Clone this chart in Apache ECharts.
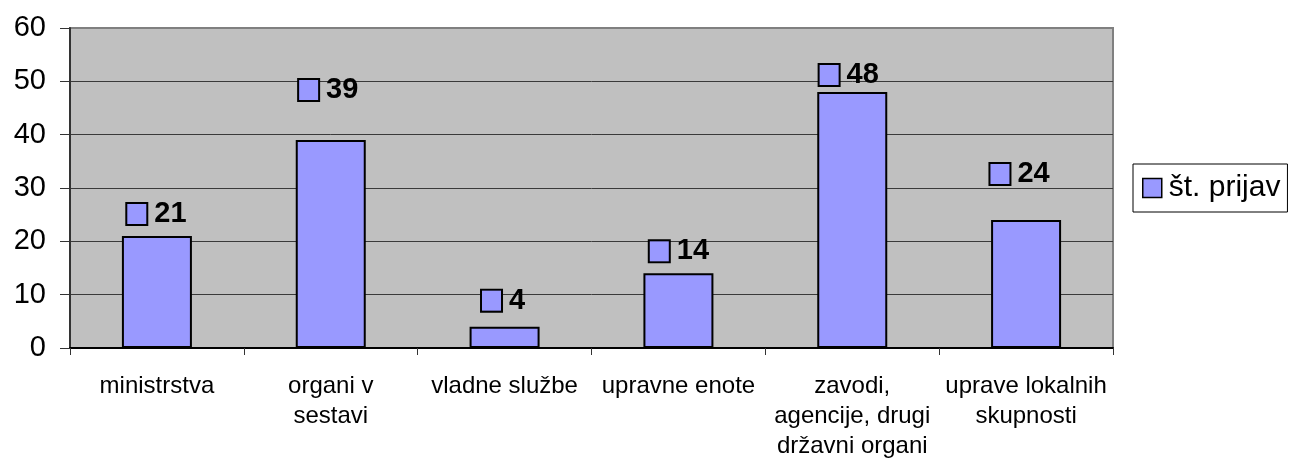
<!DOCTYPE html>
<html>
<head>
<meta charset="utf-8">
<script src="https://cdn.jsdelivr.net/npm/echarts@6/dist/echarts.min.js"></script>
<style>
  html, body { margin: 0; padding: 0; background: #fff; }
  #chart { width: 1291px; height: 462px; }
</style>
</head>
<body>
<div id="chart"></div>
<script>
  // podatki
  const categories = [
    'ministrstva',
    'organi v\nsestavi',
    'vladne službe',
    'upravne enote',
    'zavodi,\nagencije, drugi\ndržavni organi',
    'uprave lokalnih\nskupnosti'
  ];
  const prijave = [21, 39, 4, 14, 48, 24];
  const seriesName = 'št. prijav';
  const yTicks = [0, 10, 20, 30, 40, 50, 60];

  // zamiki oznak (Excel jih postavi malo po svoje)
  const labelOffsets = [[0, -3], [-2, -31], [-1, -7], [1, -3], [-3, 2], [-6, -27]];

  const font = "'Liberation Sans', Arial, sans-serif";
  const barColor = '#9999FF';

  const chart = echarts.init(document.getElementById('chart'));

  const option = {
    animation: false,
    textStyle: { fontFamily: font },
    grid: {
      left: 70, right: 178, top: 28, bottom: 114,
      show: true,
      backgroundColor: '#C0C0C0',
      borderColor: '#808080',
      borderWidth: 2
    },
    legend: {
      data: [seriesName],
      left: 1133, top: 164,
      orient: 'vertical',
      icon: 'rect',
      itemWidth: 19, itemHeight: 19,
      itemStyle: { color: barColor, borderColor: '#000', borderWidth: 1.5 },
      borderColor: '#000', borderWidth: 1,
      padding: [9, 7, 9, 9],
      textStyle: { fontSize: 30, color: '#000', fontFamily: font, padding: [0, 0, 0, 2] }
    },
    xAxis: {
      type: 'category',
      data: categories,
      axisLine: { lineStyle: { color: '#000', width: 2 } },
      axisTick: { show: true, length: 7, lineStyle: { color: '#333' } },
      axisLabel: { interval: 0, fontSize: 24, lineHeight: 30, color: '#000', margin: 23, fontFamily: font },
      splitLine: { show: false }
    },
    yAxis: {
      type: 'value',
      min: yTicks[0], max: yTicks[yTicks.length - 1], interval: 10,
      axisLine: { show: true, lineStyle: { color: '#333', width: 2 } },
      axisTick: { show: true, length: 10, lineStyle: { color: '#333' } },
      axisLabel: { fontSize: 29, color: '#000', margin: 24, fontFamily: font },
      splitLine: { show: true, showMaxLine: false, lineStyle: { color: '#3a3a3a', width: 1 } }
    },
    series: [{
      name: seriesName,
      type: 'bar',
      barWidth: 70,
      data: prijave.map((v, i) => ({
        value: v,
        label: { offset: labelOffsets[i] }
      })),
      itemStyle: { color: barColor, borderColor: '#000', borderWidth: 2 },
      label: {
        show: true,
        position: 'top',
        formatter: (p) => '{sq|}{g|}{n|' + p.value + '}',
        rich: {
          sq: {
            width: 19, height: 20,
            backgroundColor: barColor,
            borderColor: '#000', borderWidth: 2,
            verticalAlign: 'middle'
          },
          g: { width: 8, height: 20 },
          n: {
            fontSize: 29, fontWeight: 'bold', color: '#000',
            lineHeight: 28, fontFamily: font, verticalAlign: 'middle'
          }
        }
      }
    }]
  };

  chart.setOption(option);
</script>
</body>
</html>
